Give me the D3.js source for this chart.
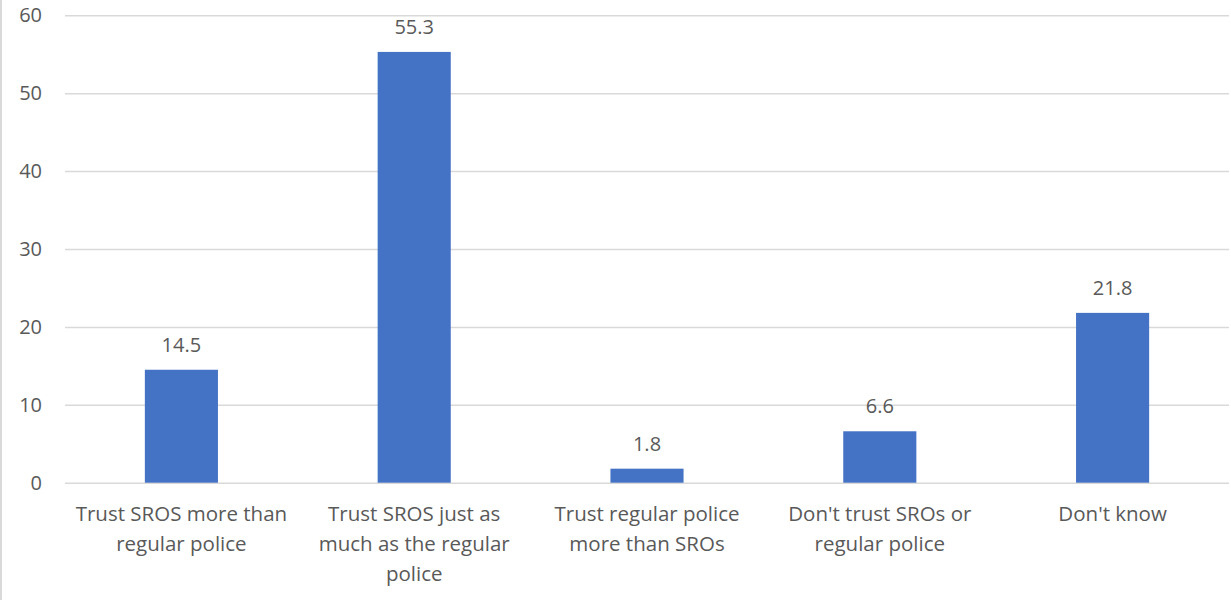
<!DOCTYPE html>
<html><head><meta charset="utf-8">
<script src="https://cdn.jsdelivr.net/npm/d3@7"></script>
<style>body{margin:0;background:#fff}svg{display:block}text{font-family:"Open Sans",sans-serif;fill:#595959}</style>
</head><body>
<svg id="c" width="1231" height="600"></svg>
<script>
const categories = ["Trust SROS more than\nregular police","Trust SROS just as\nmuch as the regular\npolice","Trust regular police\nmore than SROs","Don't trust SROs or\nregular police","Don't know"];
const values = [14.5, 55.3, 1.8, 6.6, 21.8];
const yTicks = [0,10,20,30,40,50,60];

(function(){
const svg = d3.select("#c");
const mLeft = 65, mRight = 1229, mTop = 15.3, mBottom = 482.7;
const x = d3.scaleBand().domain(categories).range([mLeft,mRight]).padding(0);
const y = d3.scaleLinear().domain([0,60]).range([mBottom,mTop]);
const barW = x.bandwidth()*0.314;

svg.append("line").attr("x1",1).attr("x2",1).attr("y1",0).attr("y2",600).attr("stroke","#d9d9d9").attr("stroke-width",2);

const ga = svg.append("g").attr("transform",`translate(${mLeft},0)`)
  .call(d3.axisLeft(y).tickValues(yTicks).tickSize(-(mRight-mLeft)).tickPadding(23).tickFormat(d3.format("d")));
ga.select(".domain").remove();
ga.selectAll(".tick line").attr("stroke","#d9d9d9").attr("stroke-width",1.5);
ga.selectAll(".tick text").attr("font-size","20px").style("fill","#595959").attr("font-family","Open Sans");

svg.selectAll("rect.bar").data(values).join("rect").attr("class","bar")
  .attr("x",(d,i)=>x(categories[i])+x.bandwidth()/2-barW/2)
  .attr("width",barW)
  .attr("y",d=>y(d)).attr("height",d=>mBottom-y(d)).attr("fill","#4472c4");

svg.selectAll("text.val").data(values).join("text").attr("class","val")
  .attr("x",(d,i)=>x(categories[i])+x.bandwidth()/2)
  .attr("y",d=>y(d)-18).attr("text-anchor","middle").attr("font-size","20px")
  .text(d=>d3.format(".1f")(d));

const gx = svg.append("g");
categories.forEach(c=>{
  const t = gx.append("text").attr("x",x(c)+x.bandwidth()/2).attr("y",521).attr("text-anchor","middle").attr("font-size","20.5px");
  c.split("\n").forEach((l,i)=>t.append("tspan").attr("x",x(c)+x.bandwidth()/2).attr("dy",i?30:0).text(l));
});
})();
</script>
</body></html>
